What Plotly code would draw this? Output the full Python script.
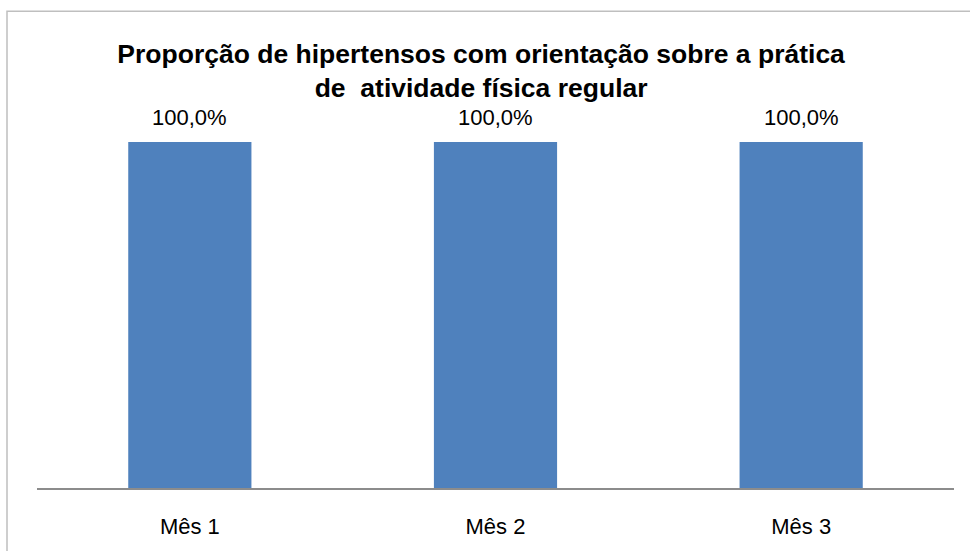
import plotly.graph_objects as go

categories = ["Mês 1", "Mês 2", "Mês 3"]
values = [100.0, 100.0, 100.0]
labels = ["100,0%", "100,0%", "100,0%"]

W, H = 970, 551
L, R, T, B = 37, 16, 142, 60
pw = W - L - R
ph = H - T - B

fig = go.Figure()
fig.add_trace(go.Bar(
    x=categories, y=values,
    marker=dict(color="#4F81BD", line=dict(width=0)),
    width=0.403,
    hoverinfo="skip",
    cliponaxis=False,
))

for c, v, t in zip(categories, values, labels):
    fig.add_annotation(x=c, y=v, text=t, showarrow=False, yanchor="bottom",
                       yshift=10, font=dict(family="Liberation Sans", size=22, color="#000"))

# outer chart border
fig.add_shape(type="rect", xref="paper", yref="paper",
              x0=(7 - L) / pw, x1=(985 - L) / pw,
              y0=(H - B - 570) / ph, y1=(H - B - 10) / ph,
              line=dict(color="#BFBFBF", width=1.5), fillcolor="rgba(0,0,0,0)", layer="below")

fig.update_layout(
    width=W, height=H,
    margin=dict(l=L, r=R, t=T, b=B),
    paper_bgcolor="white", plot_bgcolor="white",
    showlegend=False,
    title=dict(
        text="Proporção de hipertensos com orientação sobre a prática<br>de  atividade física regular",
        x=0.496, xanchor="center", y=1 - 63 / H, yanchor="middle",
        font=dict(family="Liberation Sans", size=26.5, color="#000", weight="bold"),
    ),
    xaxis=dict(
        showline=True, linecolor="#8C8C8C", linewidth=1.5,
        ticks="", showgrid=False, zeroline=False,
        tickfont=dict(family="Liberation Sans", size=22, color="#000"),
        ticklabelstandoff=18,
    ),
    yaxis=dict(range=[0, 100], visible=False, showgrid=False, zeroline=False),
    font=dict(family="Liberation Sans"),
)

fig.write_html("out.html", config={"displayModeBar": False},
               post_script="document.body.style.margin='0';document.body.style.overflow='hidden';")
